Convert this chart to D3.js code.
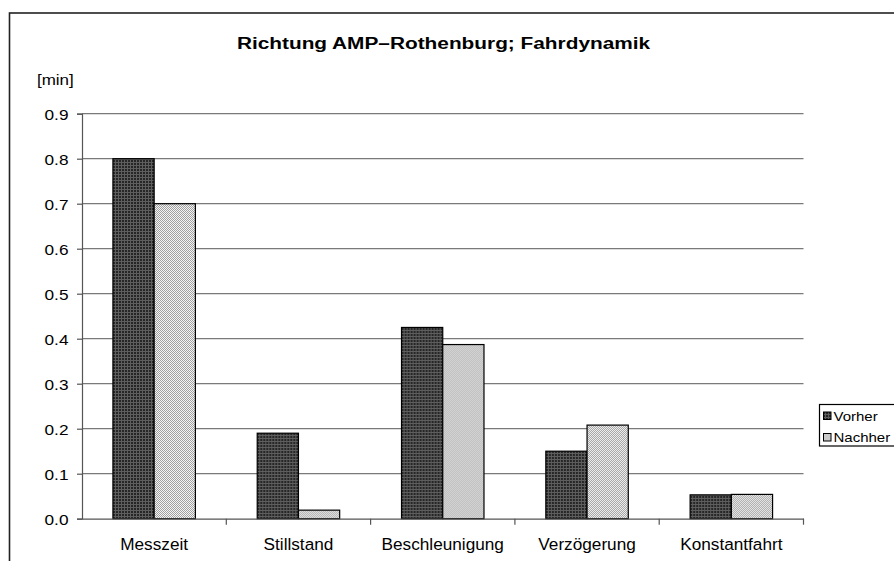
<!DOCTYPE html>
<html>
<head>
<meta charset="utf-8">
<script src="https://cdn.jsdelivr.net/npm/d3@7"></script>
<style>
  html, body { margin: 0; padding: 0; background: #fff; }
  svg { display: block; font-family: "Liberation Sans", Arial, sans-serif; }
</style>
</head>
<body>
<svg id="chart" width="894" height="561"></svg>
<script>
// ---- data ----
const categories = ["Messzeit", "Stillstand", "Beschleunigung", "Verzögerung", "Konstantfahrt"];
const seriesNames = ["Vorher", "Nachher"];
const vorher = [0.800, 0.190, 0.425, 0.150, 0.053];
const nachher = [0.700, 0.019, 0.387, 0.208, 0.054];
const yTicks = [0, 0.1, 0.2, 0.3, 0.4, 0.5, 0.6, 0.7, 0.8, 0.9];
const titleText = "Richtung AMP\u2013Rothenburg; Fahrdynamik";
const yUnit = "[min]";

const seriesValues = { "Vorher": vorher, "Nachher": nachher };

// ---- layout ----
const svg = d3.select("#chart");
const W = 894, H = 561;
const plot = { left: 82, right: 803.5, top: 113.7, bottom: 518.7 };

// patterns
const defs = svg.append("defs");
const pDark = defs.append("pattern").attr("id", "patDark")
  .attr("patternUnits", "userSpaceOnUse").attr("width", 3).attr("height", 3);
pDark.append("rect").attr("width", 3).attr("height", 3).attr("fill", "#262626");
pDark.append("rect").attr("width", 3).attr("height", 1).attr("fill", "#5e5e5e");
pDark.append("rect").attr("width", 1).attr("height", 3).attr("fill", "#5e5e5e");

const pLight = defs.append("pattern").attr("id", "patLight")
  .attr("patternUnits", "userSpaceOnUse").attr("width", 2).attr("height", 2);
pLight.append("rect").attr("width", 2).attr("height", 2).attr("fill", "#f4f4f4");
pLight.append("rect").attr("width", 1).attr("height", 1).attr("fill", "#a0a0a0");
pLight.append("rect").attr("x", 1).attr("y", 1).attr("width", 1).attr("height", 1).attr("fill", "#a0a0a0");

const fills = { "Vorher": "url(#patDark)", "Nachher": "url(#patLight)" };

// outer frame (extends beyond the window to the right and bottom)
svg.append("rect")
  .attr("x", 9.5).attr("y", 13).attr("width", W + 20).attr("height", H + 20)
  .attr("fill", "none").attr("stroke", "#222").attr("stroke-width", 1.6);

// scales
const x = d3.scaleBand().domain(categories).range([plot.left, plot.right]).padding(0);
const xInner = d3.scaleBand().domain(seriesNames).range([0, x.bandwidth()])
  .paddingInner(0).paddingOuter(0.75);
const y = d3.scaleLinear().domain([0, 0.9]).range([plot.bottom, plot.top]);

// gridlines
svg.append("g").selectAll("line").data(yTicks.filter(d => d > 0)).join("line")
  .attr("x1", plot.left).attr("x2", plot.right)
  .attr("y1", d => y(d)).attr("y2", d => y(d))
  .attr("stroke", "#7a7a7a").attr("stroke-width", 1.2);

// helper for horizontally stretched text
function stretchedText(g, str, px, py, size, sx, anchor, weight) {
  return g.append("text")
    .attr("transform", `translate(${px},${py}) scale(${sx},1)`)
    .attr("text-anchor", anchor || "start")
    .attr("font-size", size)
    .attr("font-weight", weight || "normal")
    .attr("fill", "#000")
    .text(str);
}

// y axis
const yAxis = d3.axisLeft(y).tickValues(yTicks).tickFormat(d3.format(".1f")).tickSize(5).tickPadding(0);
const gy = svg.append("g").attr("transform", `translate(${plot.left},0)`).call(yAxis);
gy.select(".domain").attr("stroke", "#555").attr("stroke-width", 1.2);
gy.selectAll(".tick line").attr("stroke", "#555").attr("stroke-width", 1.2);
gy.selectAll(".tick text").remove();
gy.selectAll(".tick").each(function(d) {
  stretchedText(d3.select(this), d3.format(".1f")(d), -13.5, 5.4, 15, 1.15, "end");
});

// bars
const groups = svg.append("g").selectAll("g").data(categories).join("g")
  .attr("transform", d => `translate(${x(d)},0)`);
groups.selectAll("rect")
  .data((c, i) => seriesNames.map(s => ({ s, v: seriesValues[s][i] })))
  .join("rect")
  .attr("x", d => xInner(d.s))
  .attr("width", xInner.bandwidth())
  .attr("y", d => y(d.v))
  .attr("height", d => y(0) - y(d.v))
  .attr("fill", d => fills[d.s])
  .attr("stroke", "#000").attr("stroke-width", 1.2);

// x axis
const xAxis = d3.axisBottom(x).tickSize(0).tickFormat("");
const gx = svg.append("g").attr("transform", `translate(0,${plot.bottom})`).call(xAxis);
gx.select(".domain").attr("stroke", "#555").attr("stroke-width", 1.2);
// boundary tick marks between categories
const boundaries = categories.map(c => x(c) + x.bandwidth());
gx.selectAll("line.bnd").data(boundaries).join("line").attr("class", "bnd")
  .attr("x1", d => d).attr("x2", d => d).attr("y1", 0).attr("y2", 6)
  .attr("stroke", "#555").attr("stroke-width", 1.2);
gx.selectAll("g.lbl").data(categories).join("g").attr("class", "lbl")
  .each(function(c) {
    stretchedText(d3.select(this), c, x(c) + x.bandwidth() / 2, 31.5, 17.2, 1.0, "middle");
  });

// title and unit
stretchedText(svg, titleText, 443.5, 49.3, 17, 1.225, "middle", "bold");
stretchedText(svg, yUnit, 37, 84.5, 14.5, 1.17, "start");

// legend
const lg = svg.append("g");
lg.append("rect").attr("x", 819.5).attr("y", 404.5).attr("width", 100).attr("height", 41.5)
  .attr("fill", "#fff").attr("stroke", "#000").attr("stroke-width", 1.2);
const legItems = lg.selectAll("g.item").data(seriesNames).join("g").attr("class", "item")
  .attr("transform", (d, i) => `translate(0,${i * 21.5})`);
legItems.append("rect").attr("x", 823.5).attr("y", 412).attr("width", 7.5).attr("height", 7.5)
  .attr("fill", d => fills[d]).attr("stroke", "#000").attr("stroke-width", 1);
legItems.each(function(d) {
  stretchedText(d3.select(this), d, 833.5, 420.5, 12.5, 1.2, "start");
});
</script>
</body>
</html>
